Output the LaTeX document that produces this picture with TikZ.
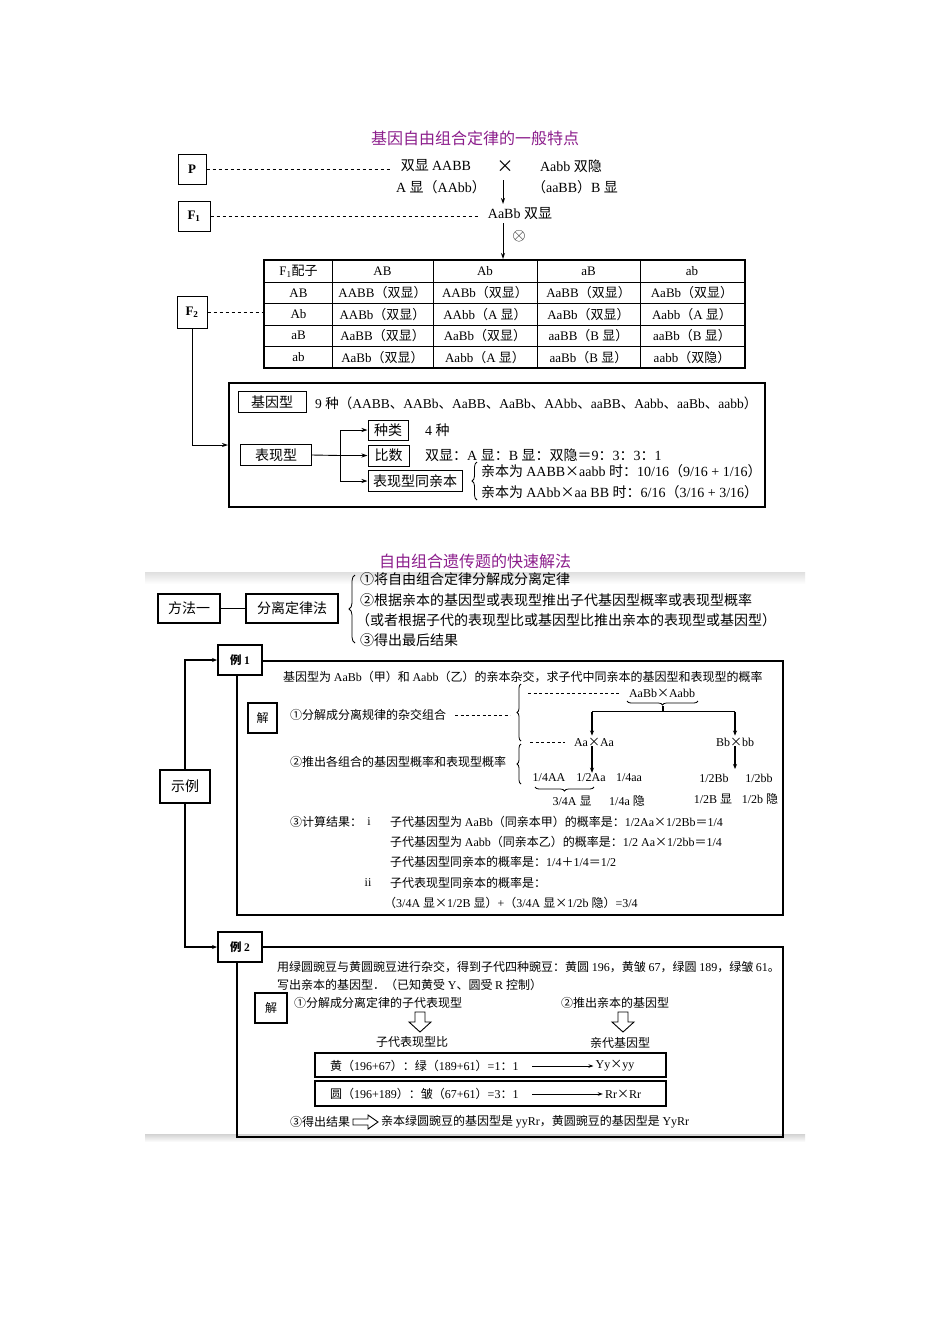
\documentclass[tikz,border=0pt]{standalone}
\usepackage{fontspec}
\setmainfont{Liberation Serif}
\newfontfamily\cjkf{Noto Sans CJK SC}
\XeTeXinterchartokenstate=1
\chardef\cjkcls=10
\makeatletter
\def\setcjkrange#1#2{\count@=#1\relax\loop\XeTeXcharclass\count@=\cjkcls\relax\ifnum\count@<#2\relax\advance\count@\@ne\repeat}
\setcjkrange{"3000}{"303F}
\setcjkrange{"4E00}{"9FFF}
\setcjkrange{"FF00}{"FFEF}
\setcjkrange{"2460}{"24FF}
\XeTeXcharclass"00D7=\cjkcls
\makeatother
\XeTeXinterchartoks 0 \cjkcls = {\cjkf}
\XeTeXinterchartoks 4095 \cjkcls = {\cjkf}
\XeTeXinterchartoks \cjkcls 0 = {\rmfamily}
\XeTeXinterchartoks 4095 0 = {\rmfamily}
\usetikzlibrary{arrows.meta,decorations.pathreplacing}
\definecolor{ttl}{RGB}{140,30,140}
\begin{document}
\begin{tikzpicture}[x=1pt,y=-1pt,
  box/.style={draw,inner sep=0,line width=1pt},
  tbox/.style={draw,inner sep=0,line width=1.6pt},
  tx/.style={inner sep=0},
  fa/.style={font=\fontsize{14}{16}\selectfont},
  fb/.style={font=\fontsize{14}{16}\selectfont},
  ft/.style={font=\fontsize{13}{15}\selectfont},
  fc/.style={font=\fontsize{14}{16}\selectfont},
  fd/.style={font=\fontsize{12}{14}\selectfont},
  dsh/.style={line width=0.8pt,dash pattern=on 3pt off 3pt},
  dsh2/.style={line width=0.7pt,dash pattern=on 3pt off 2.5pt},
  arr1/.style={line width=0.9pt,-{Stealth[length=6pt,width=4pt]}},
  arr2/.style={line width=1.1pt,-{Stealth[length=5pt,width=4pt]}},
  brc/.style={decorate,decoration={brace,amplitude=#1},line width=0.8pt},
  frame/.style={line width=2pt}]
\useasboundingbox (0,0) rectangle (950,1344);
\fill[white] (0,0) rectangle (950,1344);
%% ---------------- section 1
\node[tx,font=\fontsize{16}{18}\selectfont,text=ttl] (title1) at (475,138) {基因自由组合定律的一般特点};
\node[box,minimum width=28,minimum height=30,font=\bfseries\fontsize{13}{15}\selectfont] (P) at (192,169) {P};
\node[box,minimum width=32,minimum height=30,font=\bfseries\fontsize{13}{15}\selectfont] (F1) at (194,216) {F\textsubscript{1}};
\node[box,minimum width=30,minimum height=32,font=\bfseries\fontsize{13}{15}\selectfont] (F2) at (192,312) {F\textsubscript{2}};
\node[tx,fa] (p1) at (436,166) {双显 AABB};
\node[tx,font=\fontsize{17}{17}\selectfont] (cr) at (505,167) {×};
\node[tx,fa] (p2) at (571,166) {Aabb 双隐};
\node[tx,fa] (p3) at (441,187) {A 显（AAbb）};
\node[tx,fa] (p4) at (575,187) {（aaBB）B 显};
\node[tx,fa] (f1t) at (520,214) {AaBb 双显};
\node[tx,font=\fontsize{19}{19}\selectfont] (ot) at (519,236) {$\otimes$};
\coordinate (pd) at (392,169);
\coordinate (fdd) at (480,216);
\draw[dsh] (P.east) -- (pd);
\draw[dsh] (F1.east) -- (fdd);
\coordinate (a1) at (503,180); \coordinate (a2) at (503,204);
\coordinate (a3) at (503,223); \coordinate (a4) at (503,259);
\draw[arr1] (a1) -- (a2);
\draw[arr1] (a3) -- (a4);
% table
\draw[line width=1.1pt] (264,260) rectangle (745,368);
\foreach \yy in {282,303.5,325,346.5} \draw[line width=0.8pt] (264,\yy) -- (745,\yy);
\foreach \xx in {332,433,537,640} \draw[line width=0.8pt] (\xx,260) -- (\xx,368);
\node[tx,ft] (h0) at (298.5,271) {F\textsubscript{1}配子};
\node[tx,ft] (h1) at (382.5,271) {AB};
\node[tx,ft] (h2) at (485,271) {Ab};
\node[tx,ft] (h3) at (588.5,271) {aB};
\node[tx,ft] (h4) at (692,271) {ab};
\foreach \n/\yy/\g/\ca/\cb/\cc/\cd in {
  1/292.75/AB/AABB（双显）/AABb（双显）/AaBB（双显）/AaBb（双显）,
  2/314.25/Ab/AABb（双显）/AAbb（A 显）/AaBb（双显）/Aabb（A 显）,
  3/335.75/aB/AaBB（双显）/AaBb（双显）/aaBB（B 显）/aaBb（B 显）,
  4/357.25/ab/AaBb（双显）/Aabb（A 显）/aaBb（B 显）/aabb（双隐）}{
  \node[tx,ft] (r\n c0) at (298.5,\yy) {\g};
  \node[tx,ft] (r\n c1) at (382.5,\yy) {\ca};
  \node[tx,ft] (r\n c2) at (485,\yy) {\cb};
  \node[tx,ft] (r\n c3) at (588.5,\yy) {\cc};
  \node[tx,ft] (r\n c4) at (692,\yy) {\cd};
}
\draw[dsh] (F2.east) -- (264,312);
% big box
\node[draw,line width=2pt,minimum width=536,minimum height=124,inner sep=0] (bigbox) at (497,445) {};
\draw[arr1] (F2.south) |- (bigbox.west);
\node[box,fb,minimum width=68,minimum height=21] (gt) at (272,402) {基因型};
\node[tx,font=\fontsize{13.5}{15}\selectfont,anchor=west] (gtt) at (315,403) {9 种（AABB、AABb、AaBB、AaBb、AAbb、aaBB、Aabb、aaBb、aabb）};
\node[box,fb,minimum width=71,minimum height=21] (pt) at (276,455) {表现型};
\node[box,fb,minimum width=40,minimum height=20] (zl) at (388,430) {种类};
\node[box,fb,minimum width=41,minimum height=21] (bs) at (388.5,455.5) {比数};
\node[box,fb,minimum width=94,minimum height=21] (tq) at (415,481) {表现型同亲本};
\node[tx,fb,anchor=west] (zlt) at (425,430) {4 种};
\node[tx,fb,anchor=west] (bst) at (425,455) {双显：A 显：B 显：双隐＝9：3：3：1};
\node[tx,fb,anchor=west] (tq1) at (481,471) {亲本为 AABB×aabb 时：10/16（9/16 + 1/16）};
\node[tx,fb,anchor=west] (tq2) at (481,492) {亲本为 AAbb×aa BB 时：6/16（3/16 + 3/16）};
\draw[brc=5pt] (477,500) -- (477,462);
\coordinate (jn) at (340,455.5);
\draw[line width=0.9pt] (pt.east) -- (jn);
\draw[arr1] (jn) |- (zl.west);
\draw[arr1] (jn) -- (bs.west);
\draw[arr1] (jn) |- (tq.west);
%% ---------------- section 2
\shade[top color=gray!25,bottom color=white] (145,572) rectangle (805,584);
\shade[top color=gray!35,bottom color=white] (145,1134) rectangle (805,1142);
\node[tx,font=\fontsize{16}{18}\selectfont,text=ttl] (title2) at (475,561) {自由组合遗传题的快速解法};
\node[tbox,fc,minimum width=62,minimum height=29] (ff) at (189,608.5) {方法一};
\node[tbox,fc,minimum width=92,minimum height=29] (fl) at (292,608.5) {分离定律法};
\draw[line width=1.6pt] (ff) -- (fl);
\draw[brc=6pt] (355,643) -- (355,575);
\node[tx,fc,anchor=west] (m1) at (360,579) {①将自由组合定律分解成分离定律};
\node[tx,fc,anchor=west] (m2) at (360,600) {②根据亲本的基因型或表现型推出子代基因型概率或表现型概率};
\node[tx,fc,anchor=west] (m3) at (356,620) {（或者根据子代的表现型比或基因型比推出亲本的表现型或基因型）};
\node[tx,fc,anchor=west] (m4) at (360,640) {③得出最后结果};
\node[tbox,fc,minimum width=50,minimum height=33] (sl) at (185,786.5) {示例};
% example 1
\draw[frame] (237,661) rectangle (783,915);
\node[draw,fill=white,line width=2pt,inner sep=0,minimum width=44,minimum height=30,font=\bfseries\fontsize{11.5}{13}\selectfont] (e1) at (240,660) {例 1};
\draw[arr2] (sl.north) |- (e1.west);
\node[tx,fd,anchor=west] (q1) at (283,677) {基因型为 AaBb（甲）和 Aabb（乙）的亲本杂交，求子代中同亲本的基因型和表现型的概率};
\node[box,fd,line width=1.2pt,minimum width=29,minimum height=30] (j1) at (262.5,718) {解};
\node[tx,fd,anchor=west] (s1) at (290,715) {①分解成分离规律的杂交组合};
\node[tx,fd,anchor=west] (s2) at (290,762) {②推出各组合的基因型概率和表现型概率};
\coordinate (d1a) at (455,715); \coordinate (d1b) at (510,715);
\draw[dsh2] (d1a) -- (d1b);
\draw[brc=4pt] (521,741) -- (521,684);
\draw[brc=4pt] (521,784) -- (521,744);
\node[tx,fd] (cx) at (662,693) {AaBb×Aabb};
\coordinate (d2a) at (528,693);
\coordinate (d2b) at (620,693);
\draw[dsh2] (d2a) -- (d2b);
\draw[brc=4pt] (698,701) -- (627,701);
\coordinate (u1) at (663,706); \coordinate (u2) at (663,711.5);
\coordinate (hl) at (592,711.5); \coordinate (hr) at (735,711.5);
\draw[line width=1.1pt] (u1) -- (u2);
\draw[line width=1.1pt] (hl) -- (hr);
\node[tx,fd] (aa) at (594,742) {Aa×Aa};
\node[tx,fd] (bb) at (735,742) {Bb×bb};
\draw[arr2,shorten >=2pt] (hl) -- (hl |- aa.north);
\draw[arr2,shorten >=2pt] (hr) -- (bb.north);
\coordinate (d3a) at (530,742); \coordinate (d3b) at (565,742);
\draw[dsh2] (d3a) -- (d3b);
\node[tx,fd] (g1) at (549,778) {1/4AA};
\node[tx,fd] (g2) at (591,778) {1/2Aa};
\node[tx,fd] (g3) at (629,778) {1/4aa};
\node[tx,fd] (g4) at (714,778) {1/2Bb};
\node[tx,fd] (g5) at (759,778) {1/2bb};
\draw[arr2,shorten >=1pt] (aa.south -| hl) -- (hl |- g2.north);
\coordinate (bbe) at (735,769);
\draw[arr2] (bb.south) -- (bbe);
\draw[brc=4pt] (594,787) -- (535,787);
\node[tx,fd] (k1) at (572,801) {3/4A 显};
\node[tx,fd] (k2) at (627,801) {1/4a 隐};
\node[tx,fd] (k3) at (713,799) {1/2B 显};
\node[tx,fd] (k4) at (760,799) {1/2b 隐};
\node[tx,fd,anchor=west] (s3) at (290,822) {③计算结果：};
\node[tx,fd] (ri) at (369,822) {i};
\node[tx,fd] (rii) at (368,883) {ii};
\node[tx,fd,anchor=west] (c1) at (390,822) {子代基因型为 AaBb（同亲本甲）的概率是：1/2Aa×1/2Bb＝1/4};
\node[tx,fd,anchor=west] (c2) at (390,842) {子代基因型为 Aabb（同亲本乙）的概率是：1/2 Aa×1/2bb＝1/4};
\node[tx,fd,anchor=west] (c3) at (390,862) {子代基因型同亲本的概率是：1/4＋1/4＝1/2};
\node[tx,fd,anchor=west] (c4) at (390,883) {子代表现型同亲本的概率是：};
\node[tx,fd,anchor=west] (c5) at (384,903) {（3/4A 显×1/2B 显）+（3/4A 显×1/2b 隐）=3/4};
% example 2
\draw[frame] (237,947) rectangle (783,1137);
\node[draw,fill=white,line width=2pt,inner sep=0,minimum width=44,minimum height=30,font=\bfseries\fontsize{11.5}{13}\selectfont] (e2) at (240,947) {例 2};
\draw[arr2] (sl.south) |- (e2.west);
\node[tx,fd,anchor=west] (q2a) at (277,967) {用绿圆豌豆与黄圆豌豆进行杂交，得到子代四种豌豆：黄圆 196，黄皱 67，绿圆 189，绿皱 61。};
\node[tx,fd,anchor=west] (q2b) at (277,985) {写出亲本的基因型．（已知黄受 Y、圆受 R 控制）};
\node[box,fd,line width=1.2pt,minimum width=32,minimum height=30] (j2) at (271,1008) {解};
\node[tx,fd] (v1) at (378,1003) {①分解成分离定律的子代表现型};
\node[tx,fd] (v2) at (615,1003) {②推出亲本的基因型};
\draw[line width=0.9pt] (415,1012) -- (425,1012) -- (425,1022) -- (431,1022) -- (420,1032) -- (409,1022) -- (415,1022) -- cycle;
\draw[line width=0.9pt] (618,1012) -- (628,1012) -- (628,1022) -- (634,1022) -- (623,1032) -- (612,1022) -- (618,1022) -- cycle;
\node[tx,fd] (w1) at (412,1042) {子代表现型比};
\node[tx,fd] (w2) at (620,1043) {亲代基因型};
\node[box,line width=1.2pt,minimum width=351,minimum height=24] (rb1) at (490.5,1065) {};
\node[box,line width=1.2pt,minimum width=351,minimum height=25] (rb2) at (490.5,1093.5) {};
\node[tx,fd,anchor=west] (rt1) at (330,1066) {黄（196+67）：绿（189+61）=1：1};
\node[tx,fd,anchor=west] (rt2) at (330,1094) {圆（196+189）：皱（67+61）=3：1};
\node[tx,fd] (ry1) at (615,1066) {Yy×yy};
\node[tx,fd] (ry2) at (623,1094) {Rr×Rr};
\coordinate (ar1) at (532,1066); \coordinate (ar2) at (532,1094);
\draw[line width=0.8pt,-{Stealth[length=5pt,width=3.5pt]},shorten >=2pt] (ar1) -- (ry1.west);
\draw[line width=0.8pt,-{Stealth[length=5pt,width=3.5pt]},shorten >=2pt] (ar2) -- (ry2.west);
\node[tx,fd,anchor=west] (z1) at (290,1122) {③得出结果};
\draw[line width=0.9pt] (353,1119) -- (368,1119) -- (368,1115) -- (378,1122) -- (368,1129) -- (368,1125) -- (353,1125) -- cycle;
\node[tx,fd,anchor=west] (z2) at (381,1122) {亲本绿圆豌豆的基因型是 yyRr，黄圆豌豆的基因型是 YyRr};
\end{tikzpicture}
\end{document}
